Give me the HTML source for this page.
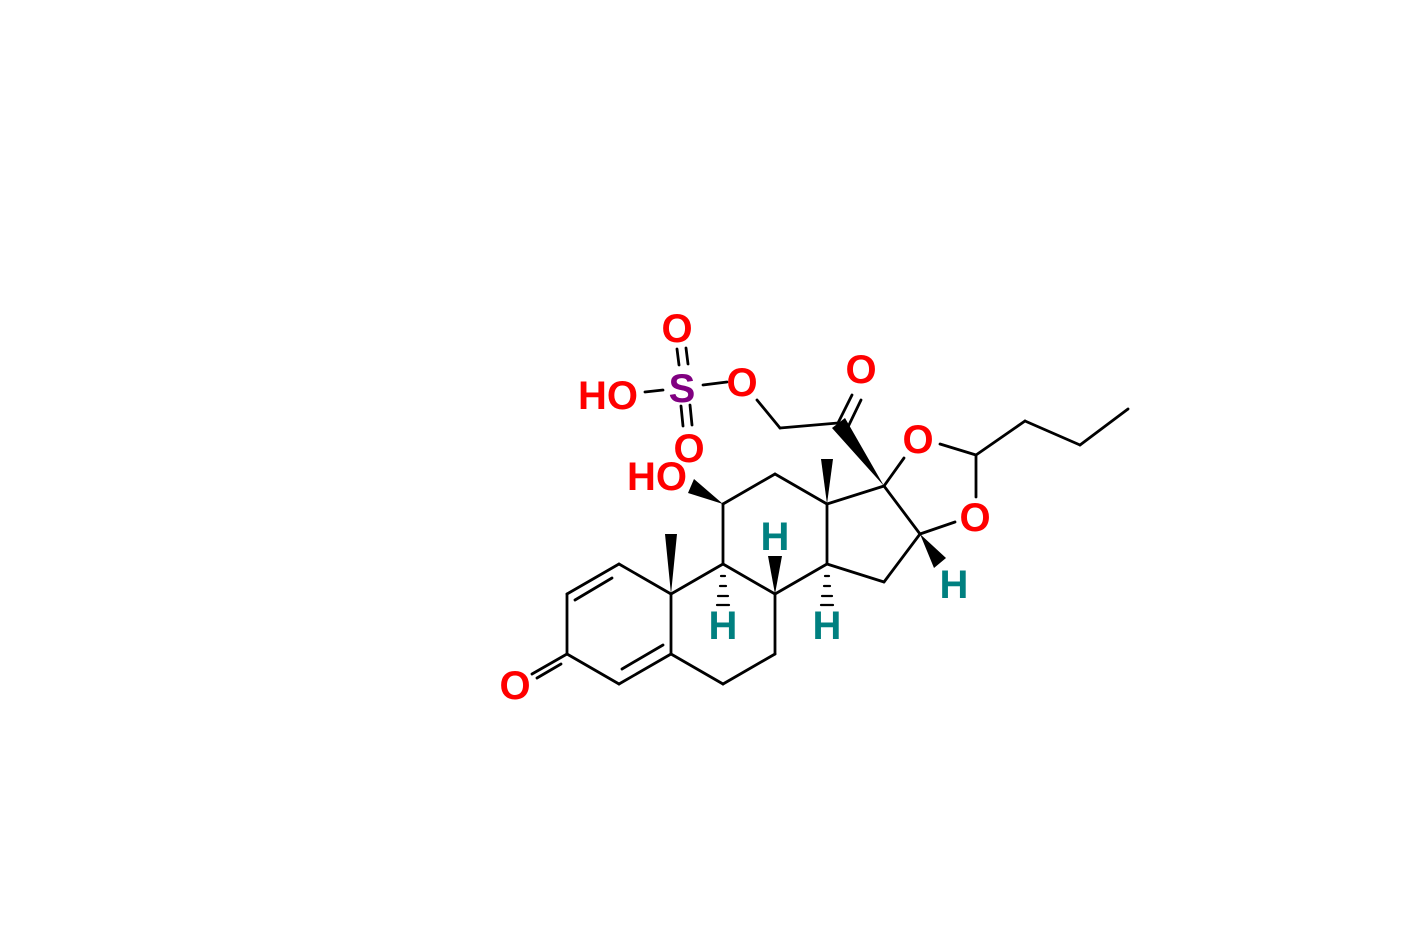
<!DOCTYPE html>
<html><head><meta charset="utf-8"><style>html,body{margin:0;padding:0;background:#fff}svg{display:block}</style></head>
<body>
<svg width="1402" height="935" viewBox="0 0 1402 935" xmlns="http://www.w3.org/2000/svg">
<g stroke="#000" stroke-width="2.8" fill="none" stroke-linecap="round">
<line x1="619" y1="564" x2="567" y2="594"/>
<line x1="612" y1="578" x2="575" y2="600"/>
<line x1="567" y1="594" x2="567" y2="654"/>
<line x1="567" y1="654" x2="619" y2="684"/>
<line x1="619" y1="684" x2="671" y2="654"/>
<line x1="622" y1="669" x2="663" y2="645"/>
<line x1="671" y1="654" x2="671" y2="594"/>
<line x1="671" y1="594" x2="619" y2="564"/>
<line x1="567" y1="654" x2="532" y2="674"/>
<line x1="561" y1="664" x2="537" y2="678"/>
<line x1="671" y1="594" x2="723" y2="564"/>
<line x1="723" y1="564" x2="775" y2="594"/>
<line x1="775" y1="594" x2="775" y2="654"/>
<line x1="775" y1="654" x2="723" y2="684"/>
<line x1="723" y1="684" x2="671" y2="654"/>
<line x1="723" y1="564" x2="723" y2="504"/>
<line x1="723" y1="504" x2="775" y2="474"/>
<line x1="775" y1="474" x2="827" y2="504"/>
<line x1="827" y1="504" x2="827" y2="564"/>
<line x1="827" y1="564" x2="775" y2="594"/>
<line x1="827" y1="504" x2="884" y2="486"/>
<line x1="884" y1="486" x2="920" y2="534"/>
<line x1="920" y1="534" x2="884" y2="582"/>
<line x1="884" y1="582" x2="827" y2="564"/>
<line x1="884" y1="486" x2="904" y2="458"/>
<line x1="940" y1="444" x2="976" y2="455"/>
<line x1="976" y1="455" x2="976" y2="497"/>
<line x1="955" y1="522" x2="920" y2="534"/>
<line x1="976" y1="455" x2="1025" y2="421"/>
<line x1="1025" y1="421" x2="1080" y2="445"/>
<line x1="1080" y1="445" x2="1128" y2="409"/>
<line x1="838" y1="423" x2="780" y2="428"/>
<line x1="780" y1="428" x2="757" y2="400"/>
<line x1="838" y1="423" x2="852" y2="395"/>
<line x1="847" y1="429" x2="861" y2="400"/>
<line x1="727" y1="382" x2="703" y2="385"/>
<line x1="663" y1="390" x2="645" y2="392"/>
<line x1="679" y1="365" x2="677" y2="349"/>
<line x1="688" y1="364" x2="686" y2="348"/>
<line x1="681" y1="406" x2="683" y2="426"/>
<line x1="690" y1="405" x2="692" y2="425"/>
<g stroke-width="2.2">
<line x1="721" y1="576" x2="725" y2="576"/>
<line x1="720" y1="586" x2="726" y2="586"/>
<line x1="718" y1="596" x2="728" y2="596"/>
<line x1="717" y1="605" x2="729" y2="605"/>
<line x1="825" y1="576" x2="829" y2="576"/>
<line x1="824" y1="586" x2="830" y2="586"/>
<line x1="822" y1="596" x2="832" y2="596"/>
<line x1="821" y1="605" x2="833" y2="605"/>
</g>
</g>
<g fill="#000">
<polygon points="671,594 665,534 677,534"/>
<polygon points="827,504 821,459 833,459"/>
<polygon points="775,594 768,556 782,556"/>
<polygon points="723,504 688,493 694,479"/>
<polygon points="884,486 832,428 845,418"/>
<polygon points="920,534 934,568 946,558"/>
</g>
<g font-family="'Liberation Sans', Arial, sans-serif" font-weight="bold" font-size="40" text-anchor="middle">
<text x="515" y="699" fill="#f00">O</text>
<text x="657" y="490" fill="#f00">HO</text>
<text x="608" y="409" fill="#f00">HO</text>
<text x="682" y="402" fill="#800080">S</text>
<text x="677" y="342" fill="#f00">O</text>
<text x="689" y="462" fill="#f00">O</text>
<text x="742" y="396" fill="#f00">O</text>
<text x="861" y="383" fill="#f00">O</text>
<text x="918" y="453" fill="#f00">O</text>
<text x="975" y="531" fill="#f00">O</text>
<text x="723" y="639" fill="#008080">H</text>
<text x="775" y="550" fill="#008080">H</text>
<text x="827" y="639" fill="#008080">H</text>
<text x="954" y="598" fill="#008080">H</text>
</g>
</svg>
</body></html>
